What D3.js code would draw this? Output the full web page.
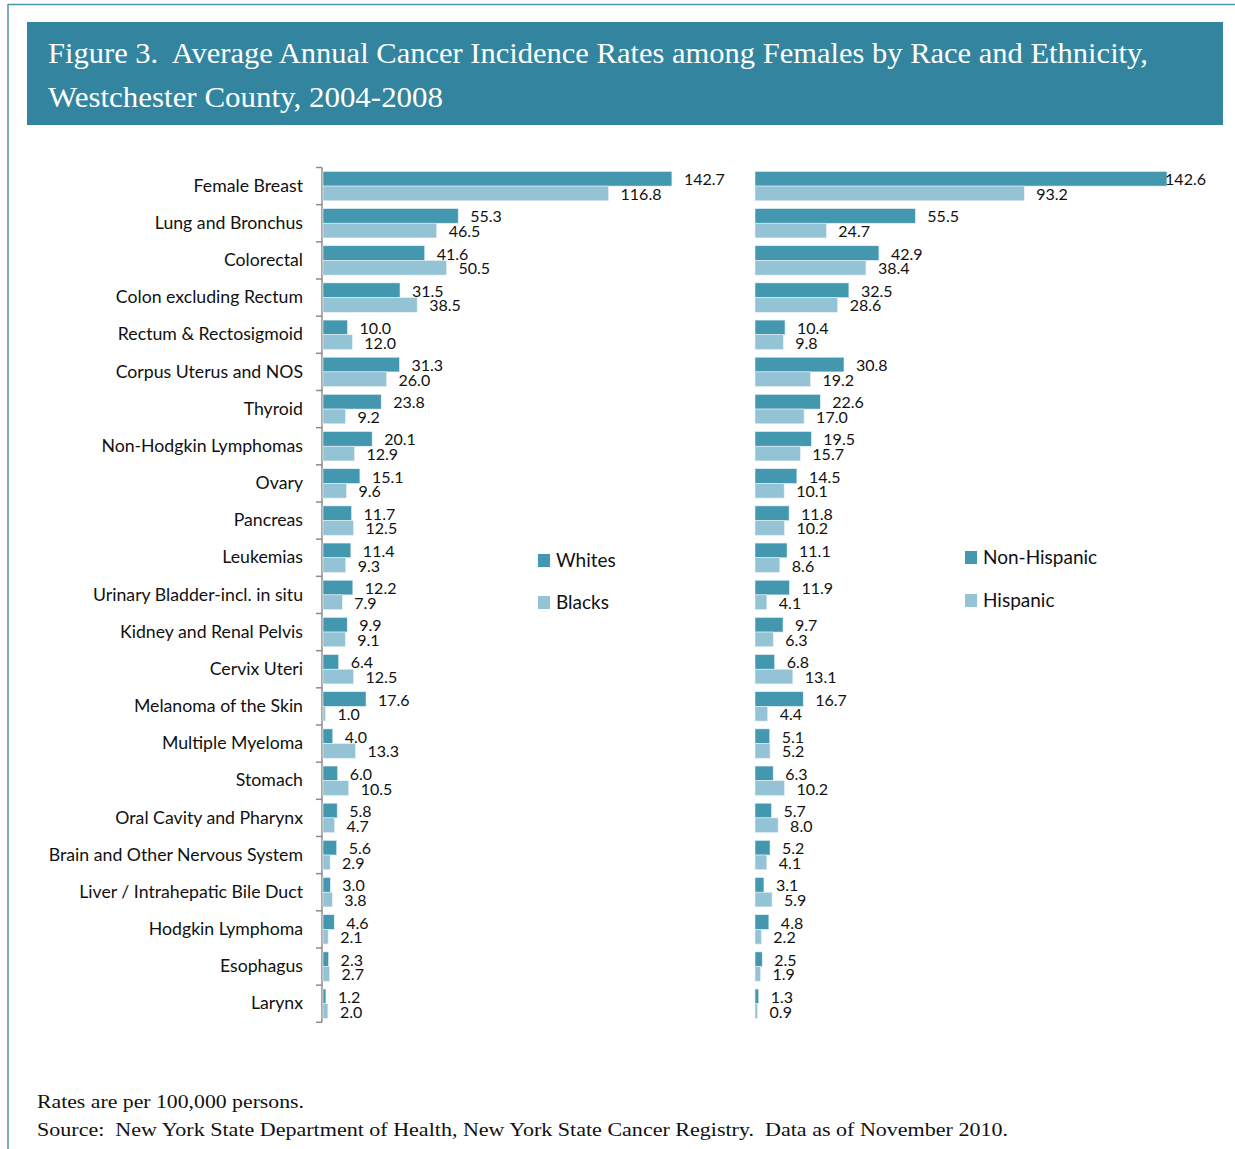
<!DOCTYPE html>
<html><head><meta charset="utf-8">
<script src="https://cdn.jsdelivr.net/npm/d3@7"></script>
<style>body{margin:0;background:#fff}svg{display:block}text{white-space:pre}</style>
</head><body>
<script>
const categories = ["Female Breast","Lung and Bronchus","Colorectal","Colon excluding Rectum","Rectum & Rectosigmoid","Corpus Uterus and NOS","Thyroid","Non-Hodgkin Lymphomas","Ovary","Pancreas","Leukemias","Urinary Bladder-incl. in situ","Kidney and Renal Pelvis","Cervix Uteri","Melanoma of the Skin","Multiple Myeloma","Stomach","Oral Cavity and Pharynx","Brain and Other Nervous System","Liver / Intrahepatic Bile Duct","Hodgkin Lymphoma","Esophagus","Larynx"];
const whites = [142.7,55.3,41.6,31.5,10.0,31.3,23.8,20.1,15.1,11.7,11.4,12.2,9.9,6.4,17.6,4.0,6.0,5.8,5.6,3.0,4.6,2.3,1.2];
const blacks = [116.8,46.5,50.5,38.5,12.0,26.0,9.2,12.9,9.6,12.5,9.3,7.9,9.1,12.5,1.0,13.3,10.5,4.7,2.9,3.8,2.1,2.7,2.0];
const nonHispanic = [142.6,55.5,42.9,32.5,10.4,30.8,22.6,19.5,14.5,11.8,11.1,11.9,9.7,6.8,16.7,5.1,6.3,5.7,5.2,3.1,4.8,2.5,1.3];
const hispanic = [93.2,24.7,38.4,28.6,9.8,19.2,17.0,15.7,10.1,10.2,8.6,4.1,6.3,13.1,4.4,5.2,10.2,8.0,4.1,5.9,2.2,1.9,0.9];
const leftSeries = ["Whites","Blacks"];
const rightSeries = ["Non-Hispanic","Hispanic"];
const titleLines = ["Figure 3.  Average Annual Cancer Incidence Rates among Females by Race and Ethnicity,","Westchester County, 2004-2008"];
const footLines = ["Rates are per 100,000 persons.","Source:  New York State Department of Health, New York State Cancer Registry.  Data as of November 2010."];

const W = 1235, H = 1149;
const DARK = "#4398b0", LIGHT = "#93c3d5", BAND = "#33849e";
const sansFont = "Lato, 'Open Sans', sans-serif";
const serifFont = "'Liberation Serif', 'DejaVu Serif', serif";

const svg = d3.select("body").append("svg").attr("width", W).attr("height", H);

// frame
svg.append("line").attr("x1",8).attr("x2",W).attr("y1",4.5).attr("y2",4.5).attr("stroke","#4d93aa").attr("stroke-width",1.5);
svg.append("line").attr("x1",8).attr("x2",8).attr("y1",4).attr("y2",H).attr("stroke","#4d93aa").attr("stroke-width",1.5);

// title band
svg.append("rect").attr("x",27).attr("y",22).attr("width",1196).attr("height",103).attr("fill",BAND);
const tl = [[48,63,1100],[48,107,395]];
titleLines.forEach((t,i)=>{
  svg.append("text").attr("x",tl[i][0]).attr("y",tl[i][1]).attr("fill","#fff")
    .attr("font-family",serifFont).attr("font-size",30)
    .attr("textLength",tl[i][2]).attr("lengthAdjust","spacingAndGlyphs").text(t);
});

// scales
const y = d3.scaleBand().domain(categories).range([167.5,1022.3]).paddingInner(0.21).paddingOuter(0.105);
const sub = d3.scaleBand().domain([0,1]).range([0,y.bandwidth()]);
const xL = d3.scaleLinear().domain([0,160]).range([323,323+2.445*160]);
const xR = d3.scaleLinear().domain([0,160]).range([755,755+2.889*160]);

// left axis labels
const axis = svg.append("g").attr("transform","translate(322,0)")
  .call(d3.axisLeft(y).tickSize(0).tickPadding(19));
axis.select(".domain").remove();
axis.selectAll("text").attr("font-family",sansFont).attr("font-size",17.7).attr("fill","#111");

// left axis line and boundary ticks
svg.append("line").attr("x1",322).attr("x2",322).attr("y1",y.range()[0]).attr("y2",y.range()[1]).attr("stroke","#8c8c8c").attr("stroke-width",1.5);
const bounds = d3.range(categories.length+1).map(i=>y.range()[0]+i*y.step());
svg.selectAll(".btick").data(bounds).join("line").attr("class","btick")
  .attr("x1",316).attr("x2",322).attr("y1",d=>d).attr("y2",d=>d).attr("stroke","#8c8c8c").attr("stroke-width",1.5);

function panel(x, a, b, maxX){
  const g = svg.append("g");
  [[a,DARK,0],[b,LIGHT,1]].forEach(([vals,col,k])=>{
    g.selectAll(".b"+k).data(vals).join("rect")
      .attr("x",x(0)).attr("y",(d,i)=>y(categories[i])+sub(k))
      .attr("width",d=>x(d)-x(0)).attr("height",sub.bandwidth())
      .attr("fill",col).attr("stroke","#e6f1f5").attr("stroke-width",0.6);
    g.selectAll(".l"+k).data(vals).join("text")
      .attr("y",(d,i)=>y(categories[i])+sub(k)+sub.bandwidth()/2 + (k?0.8:0.8))
      .attr("dy","0.36em").attr("font-family",sansFont).attr("font-size",16).attr("fill","#111")
      .text(d=>d.toFixed(1))
      .attr("x",function(d){ const w=this.getComputedTextLength(); return Math.min(x(d)+12, maxX-w); });
  });
}
panel(xL, whites, blacks, 740);
panel(xR, nonHispanic, hispanic, 1206);

// legends
function legend(x0, y0, names, gap){
  names.forEach((n,i)=>{
    svg.append("rect").attr("x",x0).attr("y",y0+i*gap-6).attr("width",12).attr("height",13).attr("fill",i?LIGHT:DARK);
    svg.append("text").attr("x",x0+18).attr("y",y0+i*gap).attr("dy","0.36em")
      .attr("font-family",sansFont).attr("font-size",19).attr("fill","#111").text(n);
  });
}
legend(538, 560, leftSeries, 42);
legend(965, 557, rightSeries, 43);

// footer
const fl = [[37,1108,267],[37,1136,971]];
footLines.forEach((t,i)=>{
  svg.append("text").attr("x",fl[i][0]).attr("y",fl[i][1]).attr("fill","#111")
    .attr("font-family",serifFont).attr("font-size",19)
    .attr("textLength",fl[i][2]).attr("lengthAdjust","spacingAndGlyphs").text(t);
});
</script>
</body></html>
